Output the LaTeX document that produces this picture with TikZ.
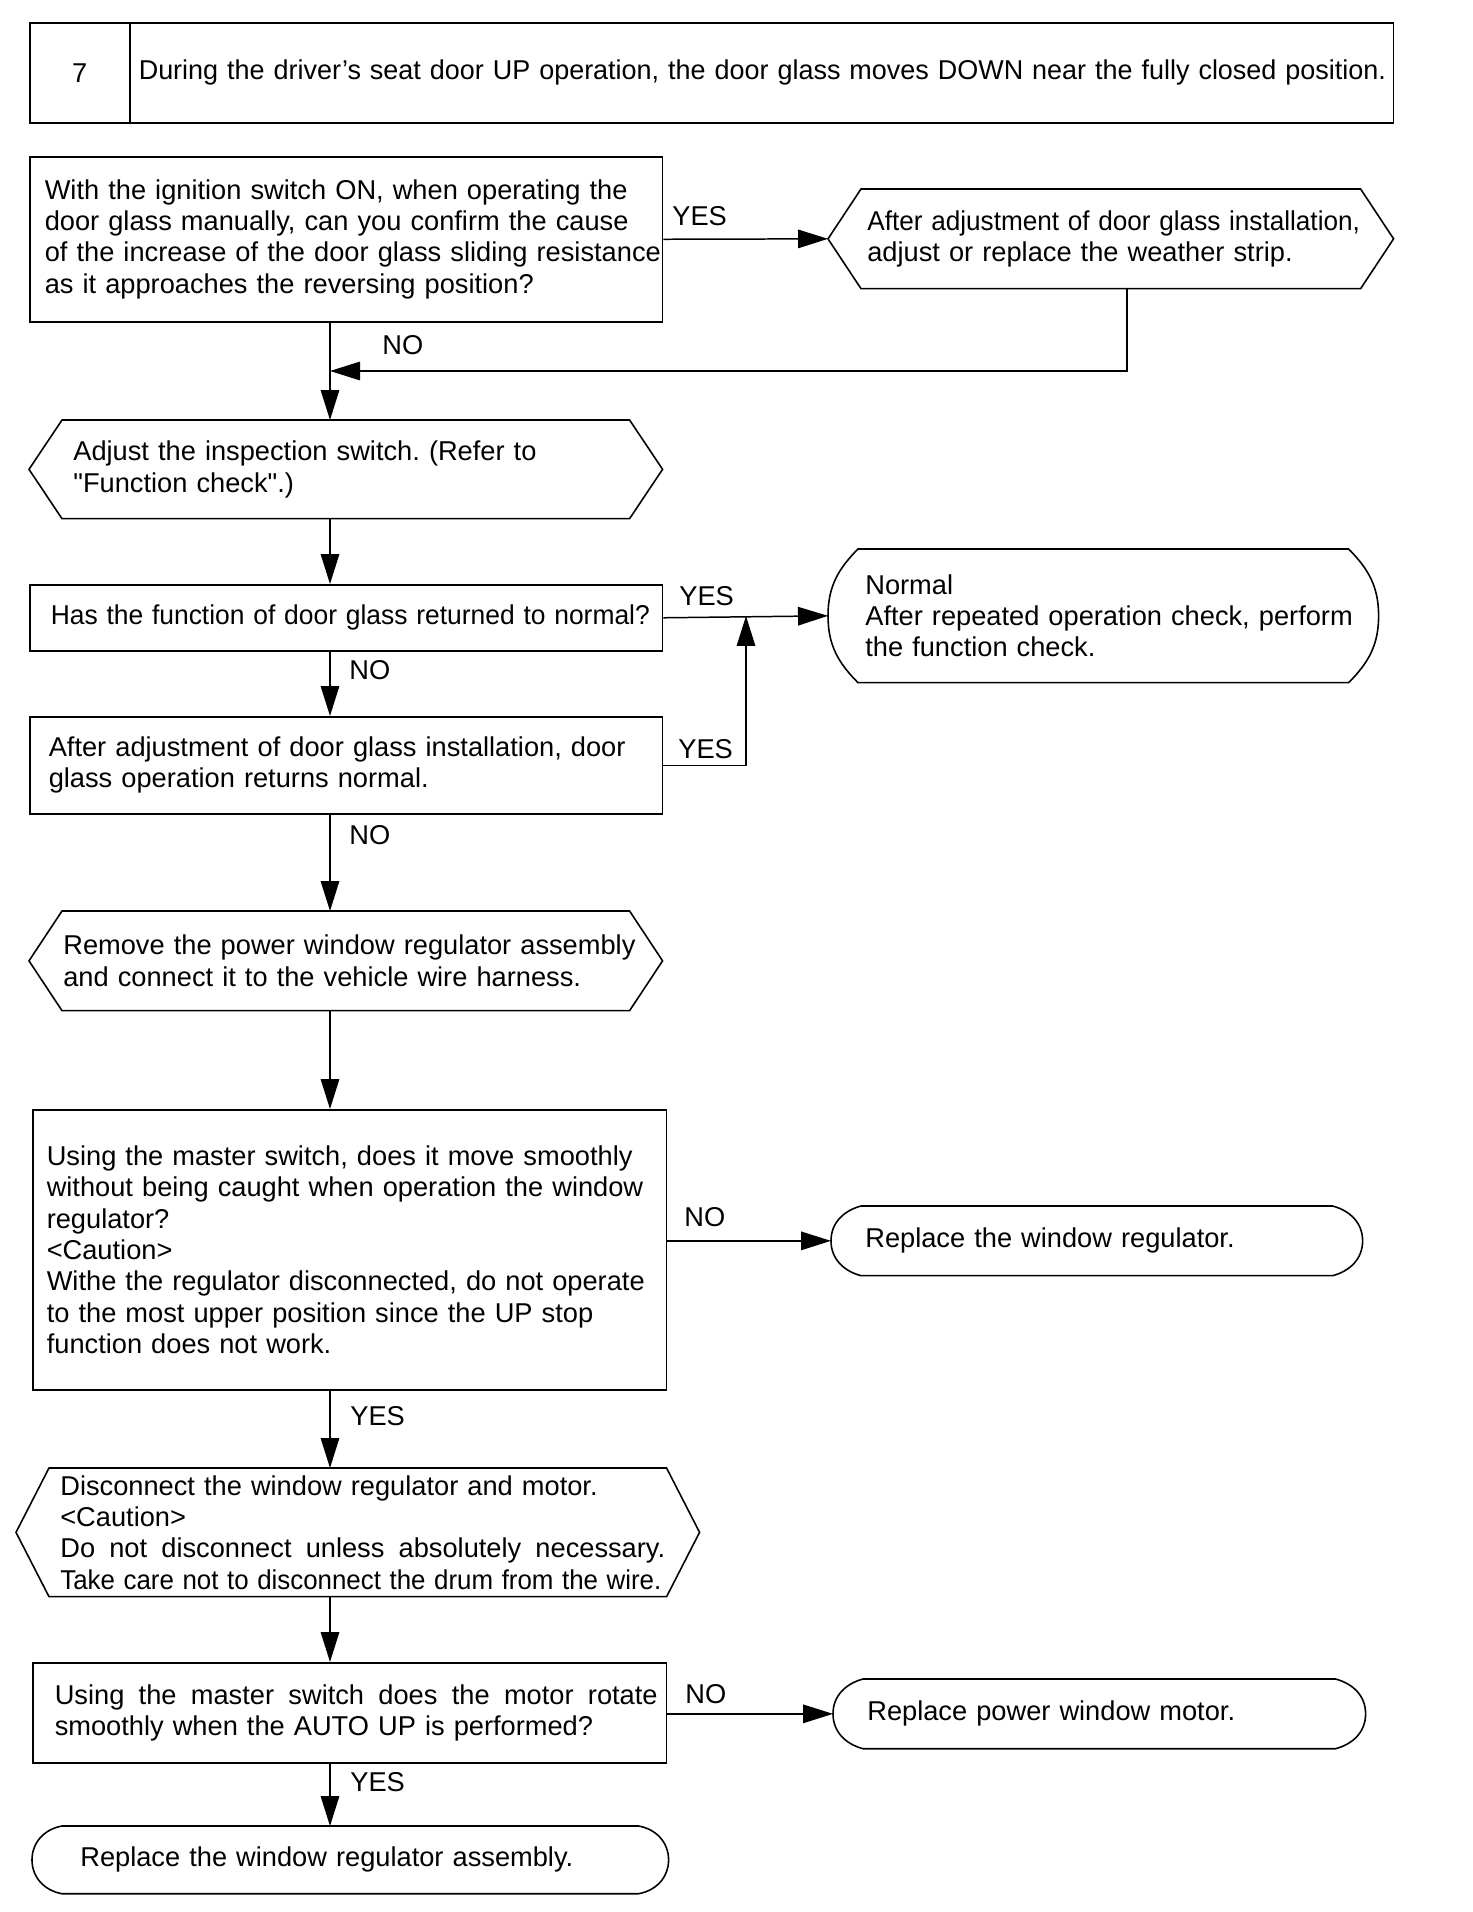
\documentclass[tikz,border=0pt]{standalone}
\usepackage{graphicx}
\usepackage{fontspec}
\setmainfont{Liberation Sans}[Ligatures=TeXOff]
\usetikzlibrary{arrows.meta, calc}
\newcommand{\flowfont}{\fontsize{15.5}{17.8}\selectfont\frenchspacing}
% lines may run past the text width instead of breaking
\newcommand{\fit}{\hyphenpenalty=10000\relax\rightskip=0pt plus 1fil minus 5cm\relax}
% one justified line of a given width
\newcommand{\spread}[2]{\leavevmode\hbox to #1{\spaceskip=0.278em plus 1fil\relax #2}}

\begin{document}
\begin{tikzpicture}[x=0.02cm, y=0.02cm,
    box/.style={draw, line width=0.9pt, rectangle, anchor=north west, inner ysep=0pt, align=left, font=\flowfont},
    hexbox/.style={rectangle, anchor=north west, inner ysep=0pt, align=left, font=\flowfont,
        append after command={\pgfextra{\draw[line width=0.9pt]
            ($(\tikzlastnode.north west)+(33,0)$) -- ($(\tikzlastnode.north east)+(-33,0)$) -- (\tikzlastnode.east)
            -- ($(\tikzlastnode.south east)+(-33,0)$) -- ($(\tikzlastnode.south west)+(33,0)$) -- (\tikzlastnode.west) -- cycle;}}},
    termbox/.style={rectangle, anchor=north west, inner ysep=0pt, align=left, font=\flowfont,
        append after command={\pgfextra{\draw[line width=0.9pt]
            ($(\tikzlastnode.north west)+(30,0)$) -- ($(\tikzlastnode.north east)+(-30,0)$)
            to[out=-#1, in=90] (\tikzlastnode.east) to[out=-90, in=#1] ($(\tikzlastnode.south east)+(-30,0)$)
            -- ($(\tikzlastnode.south west)+(30,0)$)
            to[out=180-#1, in=-90] (\tikzlastnode.west) to[out=90, in=180+#1] cycle;}}},
    lbl/.style={anchor=west, inner sep=0pt, font=\flowfont},
    flow/.style={line width=0.85pt, -{Triangle[length=0.6cm, width=0.37cm]}}]

\useasboundingbox (0,0) rectangle (1472,-1912);

% header
\node[box, align=center, text width=2cm, inner xsep=0pt, minimum height=2cm] (hnum) at (29,-22) {7};
\node[box, text width=24.92cm, inner xsep=0.18cm, minimum height=2cm] (htxt) at (129,-22) {\fit\scalebox{0.99}[1]{During the driver’s seat door UP operation, the door glass moves DOWN near the fully closed position.}};

% steps
\node[box, text width=12.06cm, inner xsep=0.3cm, minimum height=3.3cm] (q1) at (29,-156) {\fit With the ignition switch ON, when operating the\\door glass manually, can you confirm the cause\\of the increase of the door glass sliding resistance\\as it approaches the reversing position?};
\node[hexbox, text width=9.74cm, inner xsep=0.78cm, minimum height=1.98cm] (a1) at (828,-189) {\fit\scalebox{0.96}[1]{After adjustment of door glass installation,}\\adjust or replace the weather strip.};
\node[hexbox, text width=10.9cm, inner xsep=0.88cm, minimum height=1.96cm] (a2) at (29,-420) {\fit Adjust the inspection switch. (Refer to\\"Function check".)};
\node[box, text width=11.82cm, inner xsep=0.42cm, minimum height=1.32cm] (q2) at (29,-584) {\fit\scalebox{0.97}[1]{Has the function of door glass returned to normal?}};
\node[termbox=45, text width=9.52cm, inner xsep=0.74cm, minimum height=2.66cm] (n1) at (828,-549) {\fit Normal\\After repeated operation check, perform\\the function check.};
\node[box, text width=11.9cm, inner xsep=0.38cm, minimum height=1.94cm] (q3) at (29,-716) {\fit After adjustment of door glass installation, door\\glass operation returns normal.};
\node[hexbox, text width=11.3cm, inner xsep=0.68cm, minimum height=1.98cm] (a3) at (29,-911) {\fit Remove the power window regulator assembly\\and connect it to the vehicle wire harness.};
\node[box, text width=12.12cm, inner xsep=0.28cm, minimum height=5.6cm] (q4) at (32,-1109) {\fit Using the master switch, does it move smoothly\\without being caught when operation the window\\regulator?\\<Caution>\\Withe the regulator disconnected, do not operate\\to the most upper position since the UP stop\\function does not work.};
\node[termbox=15, text width=9.26cm, inner xsep=0.68cm, minimum height=1.38cm] (r1) at (831,-1206) {\fit Replace the window regulator.};
\node[hexbox, text width=11.9cm, inner xsep=0.88cm, minimum height=2.56cm] (a4) at (16,-1468) {\fit Disconnect the window regulator and motor.\\<Caution>\\\spread{12.1cm}{Do not disconnect unless absolutely necessary.}\\\scalebox{0.95}[1]{Take care not to disconnect the drum from the wire.}};
\node[box, text width=11.8cm, inner xsep=0.44cm, minimum height=2cm] (q5) at (32,-1662) {\fit\spread{12.06cm}{Using the master switch does the motor rotate}\\smoothly when the AUTO UP is performed?};
\node[termbox=15, text width=9.28cm, inner xsep=0.68cm, minimum height=1.38cm] (r2) at (833,-1679) {\fit Replace power window motor.};
\node[termbox=10, text width=10.8cm, inner xsep=0.96cm, minimum height=1.34cm] (r3) at (32,-1826) {\fit Replace the window regulator assembly.};

\coordinate (spine) at (330,0);
\coordinate (back) at (1127,-371);
\coordinate (join) at (746,-616);

% connectors
\draw[flow] (q1.east) -- (a1.west);
\draw[flow] (q1.south -| spine) -- (a2.north -| spine);
\draw[flow] (a1.south -| back) -- (back) -- (back -| spine);
\draw[flow] (a2.south -| spine) -- (q2.north -| spine);
\draw[flow] (q2.east) -- (n1.west);
\draw[flow] (q2.south -| spine) -- (q3.north -| spine);
\draw[flow] (q3.east) -| (join);
\draw[flow] (q3.south -| spine) -- (a3.north -| spine);
\draw[flow] (a3.south -| spine) -- (q4.north -| spine);
\draw[flow] (q4.east |- r1.west) -- (r1.west);
\draw[flow] (q4.south -| spine) -- (a4.north -| spine);
\draw[flow] (a4.south -| spine) -- (q5.north -| spine);
\draw[flow] (q5.east |- r2.west) -- (r2.west);
\draw[flow] (q5.south -| spine) -- (r3.north -| spine);

% answers
\node[lbl] (y1) at (672,-216) {YES};
\node[lbl] (n1l) at (382,-345) {NO};
\node[lbl] (y2) at (679,-596) {YES};
\node[lbl] (n2l) at (349,-670) {NO};
\node[lbl] (y3) at (678,-749) {YES};
\node[lbl] (n3l) at (349,-835) {NO};
\node[lbl] (n4l) at (684,-1217) {NO};
\node[lbl] (y4) at (350,-1416) {YES};
\node[lbl] (n5l) at (685,-1694) {NO};
\node[lbl] (y5) at (350,-1782) {YES};
\end{tikzpicture}
\end{document}
